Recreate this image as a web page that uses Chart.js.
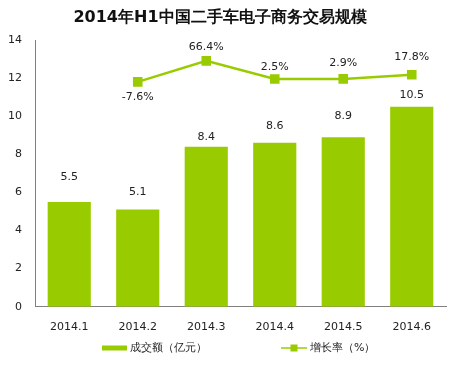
<!DOCTYPE html>
<html><head><meta charset="utf-8">
<script src="https://cdn.jsdelivr.net/npm/chart.js@4/dist/chart.umd.min.js"></script>
<style>html,body{margin:0;padding:0;background:#fff}#wrap{width:457px;height:366px}</style>
</head><body><div id="wrap"><canvas id="c" width="457" height="366"></canvas></div>
<script>
const titleText = '2014年H1中国二手车电子商务交易规模';
const categories = ['2014.1','2014.2','2014.3','2014.4','2014.5','2014.6'];
const volume = [5.5, 5.1, 8.4, 8.6, 8.9, 10.5];
const growth = [null, -7.6, 66.4, 2.5, 2.9, 17.8];
const growthLabels = ['', '-7.6%', '66.4%', '2.5%', '2.9%', '17.8%'];
const yTicks = [0, 2, 4, 6, 8, 10, 12, 14];
const seriesNames = ['成交额（亿元）', '增长率（%）'];

const GREEN = '#99CC00';
const FONT = "'DejaVu Sans', sans-serif";
// label placement offsets (pixels above the mark) as in the original
const barLabelGap = [25, 17, 10, 17, 21, 12];
const lineLabelGap = [0, -15, 14, 12, 16, 17.5];

const decor = {
  id: 'decor',
  afterDatasetsDraw(chart) {
    const ctx = chart.ctx;
    ctx.save();
    ctx.fillStyle = '#111';
    ctx.font = "bold 16px " + FONT;
    ctx.textAlign = 'center'; ctx.textBaseline = 'middle';
    ctx.fillText(titleText, 220, 18);
    ctx.font = "11px " + FONT;
    ctx.fillStyle = '#222';
    const barMeta = chart.getDatasetMeta(0);
    barMeta.data.forEach((el, i) => {
      ctx.fillText(String(volume[i]), el.x, el.y - barLabelGap[i]);
    });
    const lineMeta = chart.getDatasetMeta(1);
    lineMeta.data.forEach((el, i) => {
      if (growth[i] === null) return;
      ctx.fillText(growthLabels[i], el.x, el.y - lineLabelGap[i]);
    });
    const ly = 348;
    ctx.fillStyle = GREEN;
    ctx.fillRect(102, ly - 2.5, 25, 5);
    ctx.fillStyle = '#222';
    ctx.textAlign = 'left';
    ctx.fillText(seriesNames[0], 130, ly);
    ctx.strokeStyle = GREEN; ctx.lineWidth = 1.5;
    ctx.beginPath(); ctx.moveTo(281, ly); ctx.lineTo(307, ly); ctx.stroke();
    ctx.fillStyle = GREEN;
    ctx.fillRect(290.5, ly - 3.5, 7, 7);
    ctx.fillStyle = '#222';
    ctx.fillText(seriesNames[1], 310, ly);
    ctx.restore();
  }
};

new Chart(document.getElementById('c'), {
  type: 'bar',
  data: {
    labels: categories,
    datasets: [
      { type: 'bar', label: seriesNames[0], data: volume, backgroundColor: GREEN,
        categoryPercentage: 1, barPercentage: 0.63, yAxisID: 'y', order: 2 },
      { type: 'line', label: seriesNames[1], data: growth, borderColor: GREEN, borderWidth: 2.5,
        backgroundColor: GREEN, pointStyle: 'rect', pointRadius: 5, pointHoverRadius: 5,
        yAxisID: 'y1', spanGaps: false, tension: 0, order: 1 }
    ]
  },
  options: {
    responsive: false, animation: false, devicePixelRatio: 1,
    layout: { padding: { top: 40, right: 11, left: 0, bottom: 0 } },
    plugins: { legend: { display: false }, title: { display: false }, tooltip: { enabled: false } },
    scales: {
      x: {
        grid: { display: false, drawTicks: false },
        border: { color: '#808080', width: 1 },
        ticks: { color: '#222', font: { size: 11, family: FONT }, padding: 14 },
        afterFit(s) { s.height = 59.3; }
      },
      y: {
        min: 0, max: 14,
        afterBuildTicks(s) { s.ticks = yTicks.map(v => ({ value: v })); },
        grid: { display: false, drawTicks: false },
        border: { color: '#808080', width: 1 },
        ticks: { color: '#222', font: { size: 11, family: FONT }, padding: 13 },
        afterFit(s) { s.width = 35; }
      },
      y1: { display: false, min: -800, max: 140 }
    }
  },
  plugins: [decor]
});
</script></body></html>
